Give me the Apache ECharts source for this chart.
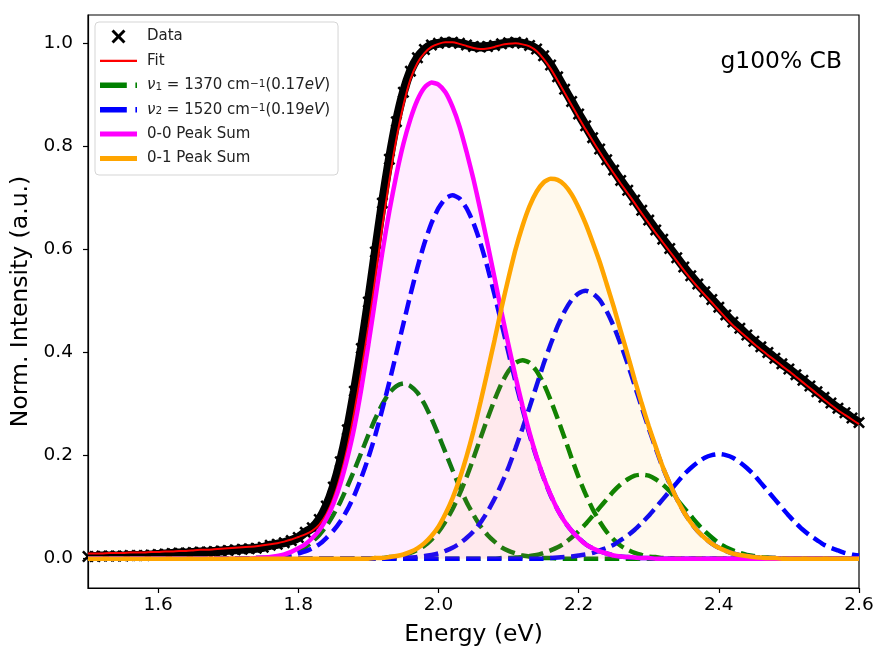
<!DOCTYPE html>
<html><head><meta charset="utf-8">
<script src="https://cdn.jsdelivr.net/npm/echarts@6/dist/echarts.min.js"></script>
<style>html,body{margin:0;padding:0;background:#fff}#c{width:878px;height:652px}</style>
</head><body><div id="c"></div>
<script>
const energy = [
1.50,1.51,1.52,1.53,1.54,1.55,1.56,1.57,1.58,1.59,
1.60,1.61,1.62,1.63,1.64,1.65,1.66,1.67,1.68,1.69,
1.70,1.71,1.72,1.73,1.74,1.75,1.76,1.77,1.78,1.79,
1.80,1.81,1.82,1.83,1.84,1.85,1.86,1.87,1.88,1.89,
1.90,1.91,1.92,1.93,1.94,1.95,1.96,1.97,1.98,1.99,
2.00,2.01,2.02,2.03,2.04,2.05,2.06,2.07,2.08,2.09,
2.10,2.11,2.12,2.13,2.14,2.15,2.16,2.17,2.18,2.19,
2.20,2.21,2.22,2.23,2.24,2.25,2.26,2.27,2.28,2.29,
2.30,2.31,2.32,2.33,2.34,2.35,2.36,2.37,2.38,2.39,
2.40,2.41,2.42,2.43,2.44,2.45,2.46,2.47,2.48,2.49,
2.50,2.51,2.52,2.53,2.54,2.55,2.56,2.57,2.58,2.59,
2.60];

const dataY = [
0.004,0.004,0.005,0.005,0.005,0.005,0.006,0.006,0.006,0.007,
0.008,0.009,0.010,0.011,0.011,0.012,0.013,0.013,0.014,0.015,
0.016,0.017,0.018,0.019,0.020,0.022,0.026,0.028,0.031,0.035,
0.041,0.051,0.060,0.076,0.102,0.139,0.188,0.250,0.325,0.408,
0.498,0.595,0.690,0.775,0.848,0.905,0.946,0.972,0.988,0.997,
1.000,1.002,1.002,1.000,0.997,0.994,0.993,0.994,0.996,0.999,
1.001,1.002,1.000,0.996,0.989,0.976,0.958,0.935,0.911,0.887,
0.863,0.840,0.817,0.795,0.774,0.754,0.734,0.715,0.696,0.676,
0.657,0.638,0.620,0.602,0.584,0.566,0.549,0.533,0.518,0.503,
0.488,0.473,0.459,0.447,0.434,0.422,0.411,0.400,0.389,0.378,
0.368,0.357,0.346,0.335,0.324,0.313,0.302,0.292,0.283,0.273,
0.264];

const fitY = [
0.010,0.010,0.010,0.011,0.011,0.011,0.012,0.012,0.012,0.013,
0.013,0.014,0.014,0.015,0.015,0.016,0.017,0.017,0.018,0.019,
0.020,0.021,0.022,0.023,0.024,0.026,0.028,0.030,0.033,0.037,
0.042,0.047,0.054,0.066,0.086,0.117,0.160,0.215,0.285,0.365,
0.450,0.545,0.645,0.735,0.815,0.880,0.930,0.962,0.981,0.993,
0.999,1.002,1.002,0.999,0.995,0.991,0.989,0.990,0.993,0.997,
0.999,1.000,0.998,0.994,0.985,0.970,0.951,0.928,0.904,0.880,
0.856,0.833,0.811,0.789,0.768,0.748,0.728,0.709,0.690,0.670,
0.651,0.632,0.614,0.596,0.578,0.560,0.543,0.527,0.512,0.497,
0.482,0.467,0.453,0.441,0.429,0.417,0.406,0.395,0.385,0.374,
0.364,0.353,0.342,0.331,0.320,0.309,0.298,0.288,0.279,0.270,
0.261];

// nu1 (green) components
const nu1PeakA = [
0,0,0,0,0,0,0,0,0,0,
0,0,0,0,0,0,0,0,0,0,
0,0,0,0,0.001,0.001,0.002,0.004,0.006,0.010,
0.015,0.022,0.033,0.046,0.063,0.085,0.110,0.140,0.172,0.206,
0.240,0.272,0.300,0.322,0.335,0.340,0.335,0.322,0.300,0.272,
0.240,0.206,0.172,0.140,0.110,0.085,0.063,0.046,0.033,0.022,
0.015,0.010,0.006,0.004,0.002,0.001,0.001,0,0,0,
0,0,0,0,0,0,0,0,0,0,
0,0,0,0,0,0,0,0,0,0,
0,0,0,0,0,0,0,0,0,0,
0,0,0,0,0,0,0,0,0,0,
0];
const nu1PeakB = [
0,0,0,0,0,0,0,0,0,0,
0,0,0,0,0,0,0,0,0,0,
0,0,0,0,0,0,0,0,0,0,
0,0,0,0,0,0,0,0,0,0,
0,0.001,0.001,0.003,0.004,0.007,0.011,0.017,0.025,0.037,
0.052,0.072,0.096,0.125,0.158,0.195,0.234,0.272,0.308,0.340,
0.364,0.380,0.385,0.380,0.364,0.340,0.308,0.272,0.234,0.195,
0.158,0.125,0.096,0.072,0.052,0.037,0.025,0.017,0.011,0.007,
0.004,0.003,0.001,0.001,0,0,0,0,0,0,
0,0,0,0,0,0,0,0,0,0,
0,0,0,0,0,0,0,0,0,0,
0];
const nu1PeakC = [
0,0,0,0,0,0,0,0,0,0,
0,0,0,0,0,0,0,0,0,0,
0,0,0,0,0,0,0,0,0,0,
0,0,0,0,0,0,0,0,0,0,
0,0,0,0,0,0,0,0,0,0,
0,0,0,0,0,0,0,0,0,0.001,
0.001,0.002,0.003,0.005,0.007,0.011,0.016,0.022,0.030,0.041,
0.053,0.067,0.083,0.099,0.115,0.131,0.144,0.154,0.161,0.163,
0.161,0.154,0.144,0.131,0.115,0.099,0.083,0.067,0.053,0.041,
0.030,0.022,0.016,0.011,0.007,0.005,0.003,0.002,0.001,0.001,
0,0,0,0,0,0,0,0,0,0,
0];
// nu2 (blue) components
const nu2PeakA = [
0,0,0,0,0,0,0,0,0,0,
0,0,0,0,0,0,0,0,0,0,
0,0,0,0,0.001,0.001,0.002,0.003,0.004,0.006,
0.010,0.014,0.020,0.028,0.040,0.054,0.072,0.095,0.123,0.157,
0.196,0.240,0.290,0.343,0.399,0.456,0.512,0.565,0.612,0.651,
0.680,0.699,0.705,0.699,0.680,0.651,0.612,0.565,0.512,0.456,
0.399,0.343,0.290,0.240,0.196,0.157,0.123,0.095,0.072,0.054,
0.040,0.028,0.020,0.014,0.010,0.006,0.004,0.003,0.002,0.001,
0.001,0,0,0,0,0,0,0,0,0,
0,0,0,0,0,0,0,0,0,0,
0,0,0,0,0,0,0,0,0,0,
0];
const nu2PeakB = [
0,0,0,0,0,0,0,0,0,0,
0,0,0,0,0,0,0,0,0,0,
0,0,0,0,0,0,0,0,0,0,
0,0,0,0,0,0,0,0,0,0,
0,0,0,0,0.001,0.001,0.002,0.003,0.005,0.007,
0.010,0.015,0.021,0.029,0.040,0.053,0.070,0.091,0.116,0.145,
0.177,0.214,0.253,0.294,0.336,0.378,0.416,0.451,0.480,0.502,
0.515,0.520,0.515,0.502,0.480,0.451,0.416,0.378,0.336,0.294,
0.253,0.214,0.177,0.145,0.116,0.091,0.070,0.053,0.040,0.029,
0.021,0.015,0.010,0.007,0.005,0.003,0.002,0.001,0.001,0,
0,0,0,0,0,0,0,0,0,0,
0];
const nu2PeakC = [
0,0,0,0,0,0,0,0,0,0,
0,0,0,0,0,0,0,0,0,0,
0,0,0,0,0,0,0,0,0,0,
0,0,0,0,0,0,0,0,0,0,
0,0,0,0,0,0,0,0,0,0,
0,0,0,0,0,0,0,0,0,0,
0,0,0,0,0,0,0.001,0.002,0.003,0.004,
0.006,0.008,0.011,0.016,0.021,0.027,0.036,0.045,0.056,0.069,
0.083,0.099,0.115,0.131,0.147,0.163,0.176,0.187,0.196,0.201,
0.203,0.201,0.196,0.187,0.176,0.163,0.147,0.131,0.115,0.099,
0.083,0.069,0.056,0.045,0.036,0.027,0.021,0.016,0.011,0.008,
0.006];
const peakSum00 = [
0,0,0,0,0,0,0,0,0,0,
0,0,0,0,0,0,0,0,0,0,
0,0,0,0,0.001,0.002,0.003,0.005,0.008,0.013,
0.020,0.028,0.040,0.055,0.077,0.106,0.145,0.195,0.255,0.330,
0.415,0.505,0.595,0.675,0.745,0.805,0.853,0.890,0.914,0.924,
0.920,0.905,0.877,0.839,0.790,0.736,0.675,0.611,0.545,0.478,
0.414,0.353,0.296,0.244,0.198,0.158,0.124,0.095,0.072,0.054,
0.040,0.028,0.020,0.014,0.010,0.006,0.004,0.003,0.002,0.001,
0.001,0,0,0,0,0,0,0,0,0,
0,0,0,0,0,0,0,0,0,0,
0,0,0,0,0,0,0,0,0,0,
0];
const peakSum01 = [
0,0,0,0,0,0,0,0,0,0,
0,0,0,0,0,0,0,0,0,0,
0,0,0,0,0,0,0,0,0,0,
0,0,0,0,0,0,0,0,0,0,
0,0.001,0.001,0.003,0.005,0.008,0.013,0.020,0.030,0.044,
0.062,0.087,0.117,0.154,0.198,0.248,0.304,0.363,0.424,0.487,
0.545,0.600,0.646,0.684,0.712,0.730,0.737,0.735,0.725,0.707,
0.681,0.650,0.614,0.576,0.533,0.489,0.442,0.395,0.347,0.301,
0.257,0.217,0.178,0.146,0.116,0.091,0.070,0.053,0.040,0.029,
0.021,0.015,0.010,0.007,0.005,0.003,0.002,0.001,0.001,0,
0,0,0,0,0,0,0,0,0,0,
0];

const xTicks = [1.6, 1.8, 2.0, 2.2, 2.4, 2.6];
const yTicks = [0.0, 0.2, 0.4, 0.6, 0.8, 1.0];
const NAME_DATA = 'Data', NAME_FIT = 'Fit';
const NAME_NU1 = 'ν1 = 1370 cm-1(0.17eV)';
const NAME_NU2 = 'ν2 = 1520 cm-1(0.19eV)';
const NAME_S00 = '0-0 Peak Sum', NAME_S01 = '0-1 Peak Sum';

const FONT = 'DejaVu Sans';
const DASH = [14.5, 6.5];
const X_ICON = 'path://M0,1.5L1.5,0L5,3.5L8.5,0L10,1.5L6.5,5L10,8.5L8.5,10L5,6.5L1.5,10L0,8.5L3.5,5Z';
const THIN_ICON = 'path://M0,0h35v2h-35z';
const THICK_ICON = 'path://M0,0h37v5h-37z';
const DASH_ICON = 'path://M0,0h25v5h-25zM33,0h1.5v5h-1.5z';
function pairs(ys){ return energy.map((x,i)=>[x, ys[i]]); }
function comp(name, ys, color){
  return {name, type:'line', data:pairs(ys), smooth:0.2, symbol:'none',
    lineStyle:{color, width:4.5, type:DASH, cap:'butt'}, itemStyle:{color}, z:3};
}
const chart = echarts.init(document.getElementById('c'));
const legendText = {};
legendText[NAME_DATA] = '{t|Data}';
legendText[NAME_FIT] = '{t|Fit}';
legendText[NAME_NU1] = '{i|ν}{sub|1}{t| = 1370 cm}{sup|−1}{t|(0.17}{i|eV}{t|)}';
legendText[NAME_NU2] = '{i|ν}{sub|2}{t| = 1520 cm}{sup|−1}{t|(0.19}{i|eV}{t|)}';
legendText[NAME_S00] = '{t|0-0 Peak Sum}';
legendText[NAME_S01] = '{t|0-1 Peak Sum}';

chart.setOption({
  animation:false,
  textStyle:{fontFamily:FONT},
  grid:{left:88, right:19, top:15, bottom:62, show:true, borderColor:'#000', borderWidth:1.2, backgroundColor:'transparent'},
  xAxis:{type:'value', min:1.5, max:2.6,
    name:'Energy (eV)', nameLocation:'middle', nameGap:35,
    nameTextStyle:{fontFamily:FONT, fontSize:23.5, color:'#000'},
    axisLine:{show:true, onZero:false, lineStyle:{color:'#000', width:1.2}},
    axisTick:{show:true, length:5, lineStyle:{color:'#000', width:1.2}, customValues:xTicks},
    axisLabel:{customValues:xTicks, formatter:v=>v.toFixed(1), fontFamily:FONT, fontSize:18.5, color:'#000', margin:8},
    splitLine:{show:false}},
  yAxis:{type:'value', min:-0.057, max:1.055,
    name:'Norm. Intensity (a.u.)', nameLocation:'middle', nameGap:50,
    nameTextStyle:{fontFamily:FONT, fontSize:23.5, color:'#000'},
    axisLine:{show:true, lineStyle:{color:'#000', width:1.2}},
    axisTick:{show:true, length:5, lineStyle:{color:'#000', width:1.2}, customValues:yTicks},
    axisLabel:{customValues:yTicks, formatter:v=>v.toFixed(1), fontFamily:FONT, fontSize:18.5, color:'#000', margin:15},
    splitLine:{show:false}},
  legend:{orient:'vertical', left:95, top:22, padding:[7,8,9,5], itemWidth:37, itemHeight:14, itemGap:9.4,
    backgroundColor:'rgba(255,255,255,0.85)', borderColor:'#d5d5d5', borderWidth:1, borderRadius:4,
    data:[{name:NAME_DATA, icon:X_ICON}, {name:NAME_FIT, icon:THIN_ICON}, {name:NAME_NU1, icon:DASH_ICON},
          {name:NAME_NU2, icon:DASH_ICON}, {name:NAME_S00, icon:THICK_ICON}, {name:NAME_S01, icon:THICK_ICON}],
    formatter:n=>legendText[n],
    textStyle:{fontFamily:FONT, fontSize:15, color:'#222', padding:[0,0,0,5],
      rich:{t:{fontSize:15, lineHeight:14, fontFamily:FONT, color:'#222'},
            i:{fontSize:15, lineHeight:14, fontStyle:'italic', fontFamily:FONT, color:'#222'},
            sub:{fontSize:10.5, lineHeight:8, verticalAlign:'bottom', fontFamily:FONT, color:'#222'},
            sup:{fontSize:10.5, lineHeight:8, verticalAlign:'top', fontFamily:FONT, color:'#222'}}}},
  graphic:[{type:'text', right:36, top:50, style:{text:'g100% CB', font:'23.4px "DejaVu Sans"', fill:'#000'}}],
  series:[
    {name:NAME_DATA, type:'line', data:pairs(dataY), smooth:0.2, symbol:X_ICON, symbolSize:12,
     showSymbol:true, showAllSymbol:true, lineStyle:{color:'#000', width:9}, itemStyle:{color:'#000'}, z:1},
    {name:NAME_FIT, type:'line', data:pairs(fitY), smooth:0.2, symbol:'none', lineStyle:{color:'#ff0000', width:2}, itemStyle:{color:'#ff0000'}, z:2},
    comp(NAME_NU1, nu1PeakA, '#008000'),
    comp(NAME_NU1, nu1PeakB, '#008000'),
    comp(NAME_NU1, nu1PeakC, '#008000'),
    comp(NAME_NU2, nu2PeakA, '#0000ff'),
    comp(NAME_NU2, nu2PeakB, '#0000ff'),
    comp(NAME_NU2, nu2PeakC, '#0000ff'),
    {name:NAME_S00, type:'line', data:pairs(peakSum00), smooth:0.2, symbol:'none',
     lineStyle:{color:'#ff00ff', width:4.5}, itemStyle:{color:'#ff00ff'},
     areaStyle:{color:'rgba(255,0,255,0.1)', origin:'auto'}, z:4},
    {name:NAME_S01, type:'line', data:pairs(peakSum01), smooth:0.2, symbol:'none',
     lineStyle:{color:'#ffa500', width:4.5}, itemStyle:{color:'#ffa500'},
     areaStyle:{color:'rgba(255,165,0,0.1)', origin:'auto'}, z:4}
  ]
});
</script></body></html>
